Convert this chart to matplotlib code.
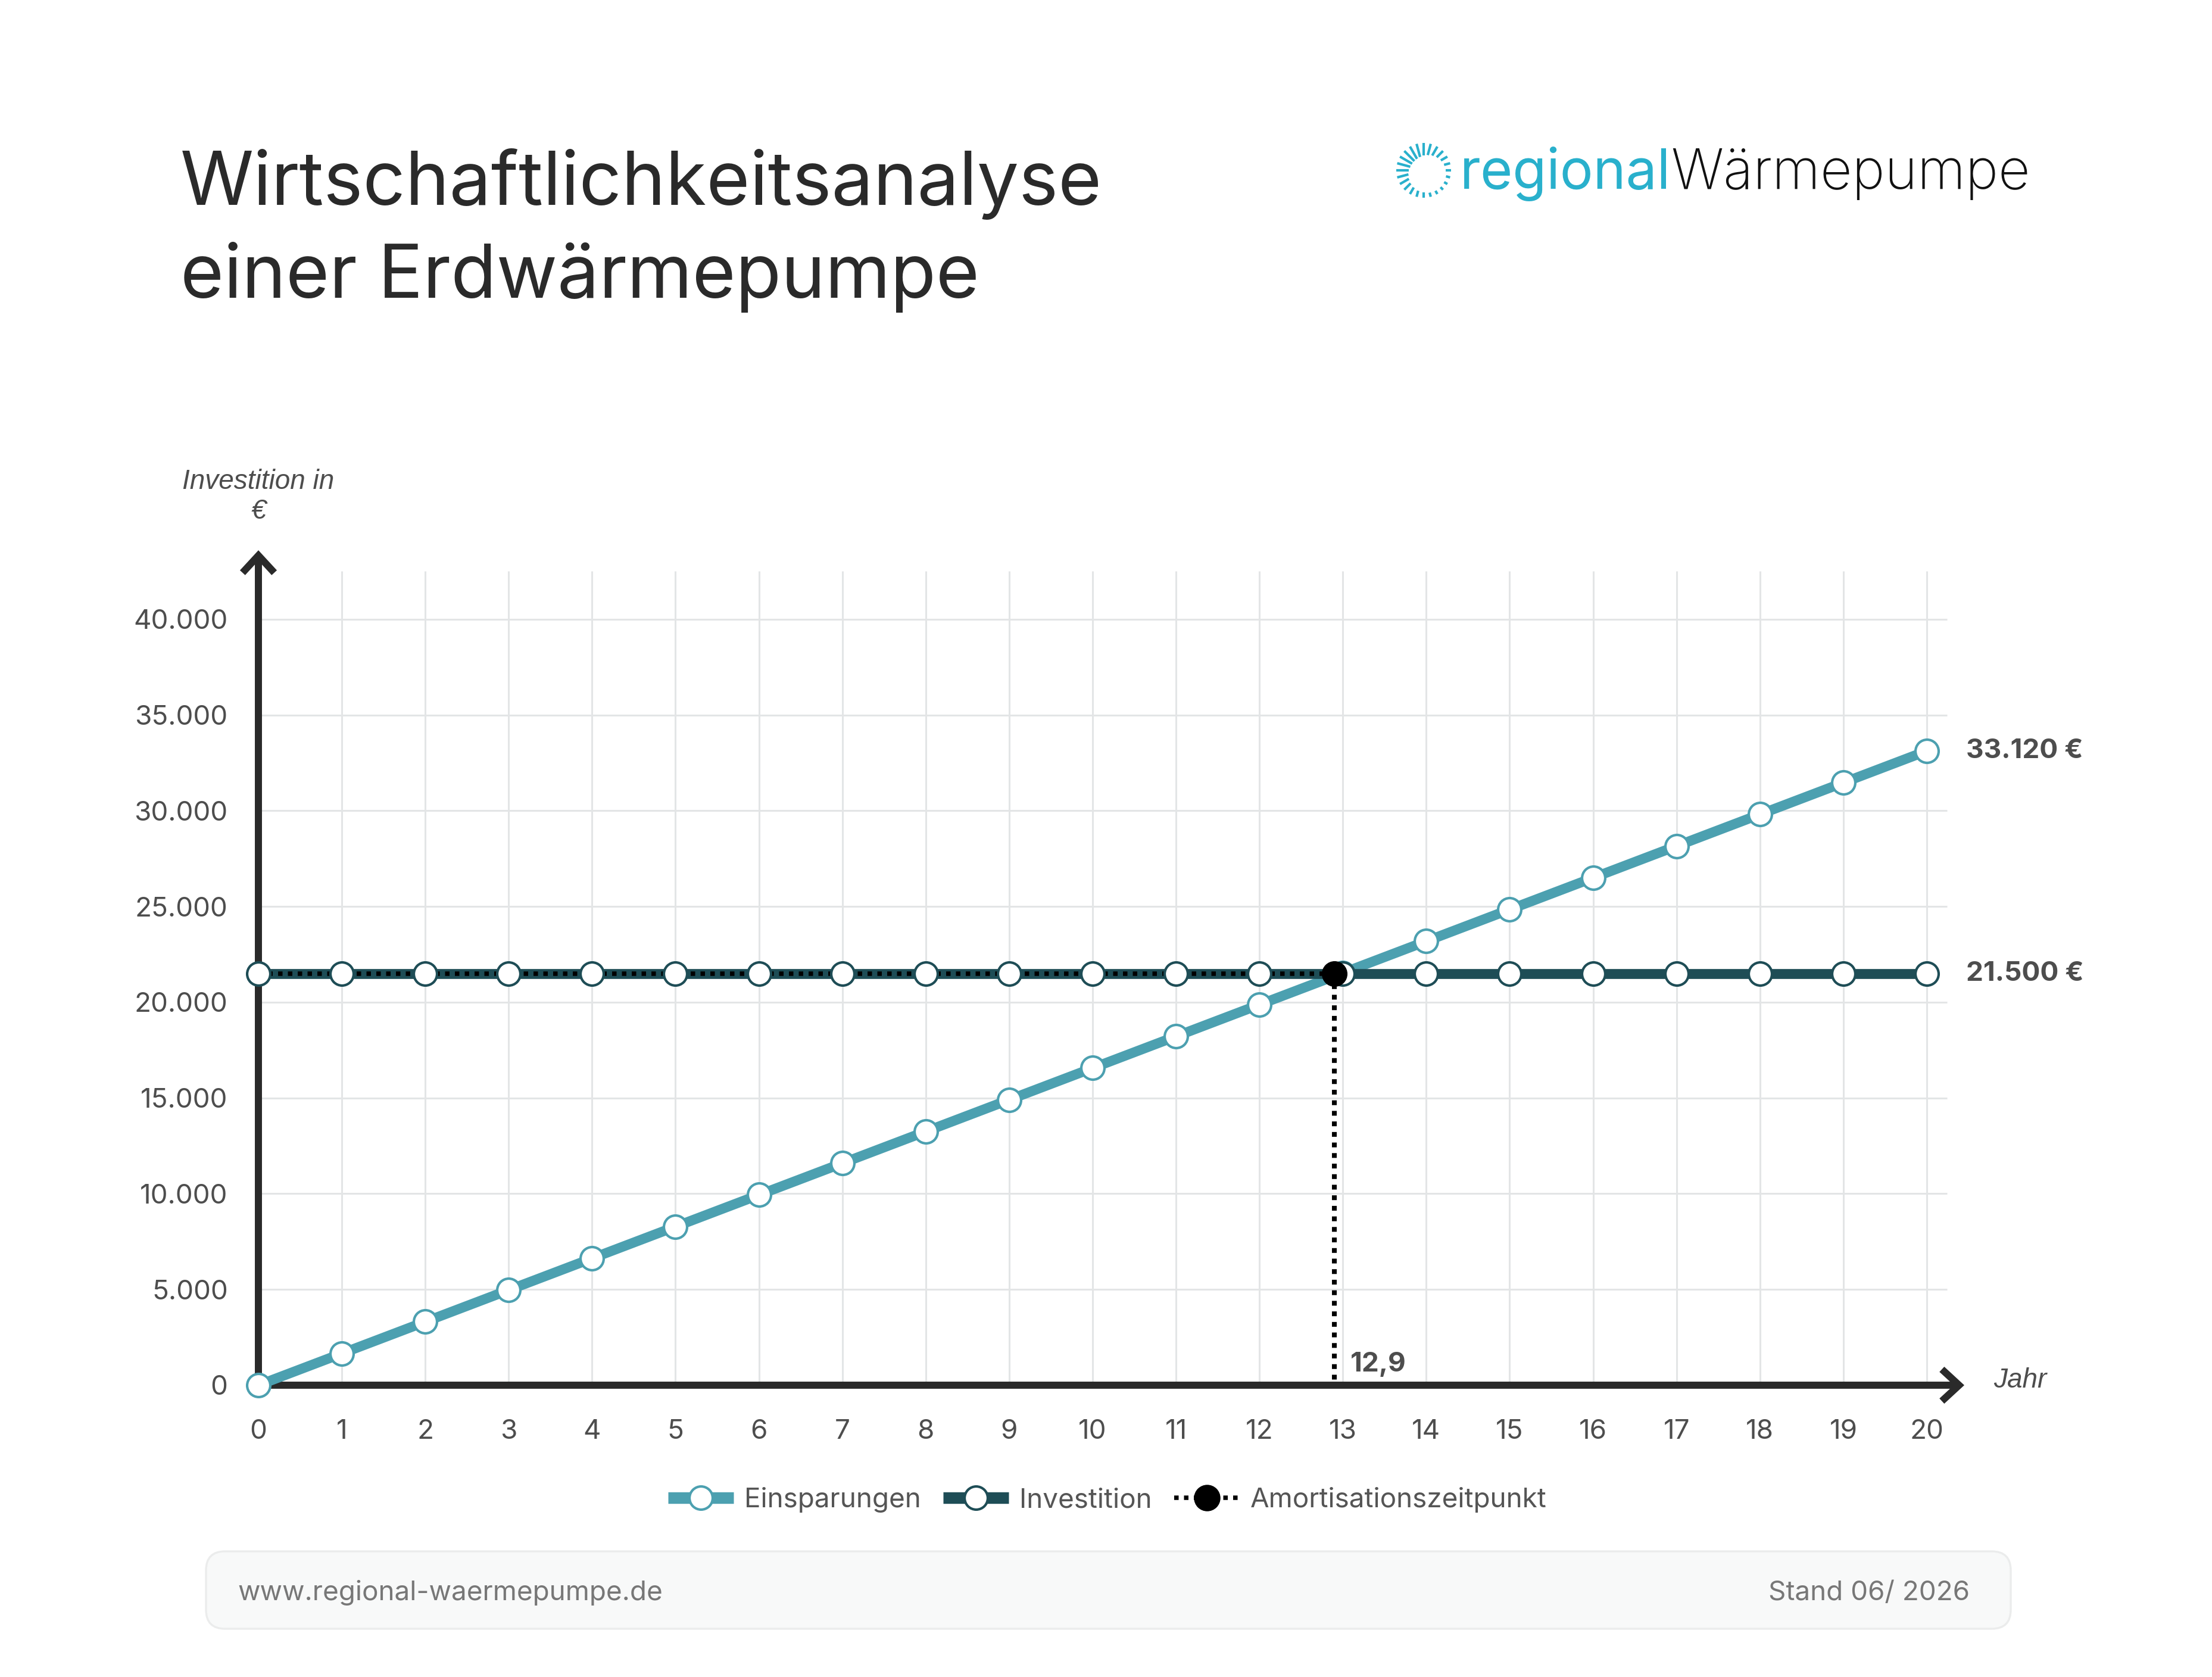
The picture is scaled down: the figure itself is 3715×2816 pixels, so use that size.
import matplotlib
matplotlib.use("Agg")
import matplotlib.pyplot as plt
from matplotlib.lines import Line2D
from matplotlib.patches import FancyBboxPatch
import numpy as np

# ---------------- data ----------------
years = [0, 1, 2, 3, 4, 5, 6, 7, 8, 9, 10, 11, 12, 13, 14, 15, 16, 17, 18, 19, 20]
savings = [0, 1656, 3312, 4968, 6624, 8280, 9936, 11592, 13248, 14904, 16560,
           18216, 19872, 21528, 23184, 24840, 26496, 28152, 29808, 31464, 33120]
investment = [21500, 21500, 21500, 21500, 21500, 21500, 21500, 21500, 21500, 21500, 21500,
              21500, 21500, 21500, 21500, 21500, 21500, 21500, 21500, 21500, 21500]
break_even_year = 12.9
break_even_value = 21500
break_even_label = "12,9"
end_labels = ["33.120 €", "21.500 €"]
ytick_values = [0, 5000, 10000, 15000, 20000, 25000, 30000, 35000, 40000]
ytick_labels = ["0", "5.000", "10.000", "15.000", "20.000", "25.000", "30.000", "35.000", "40.000"]
xtick_labels = [str(y) for y in years]
series_names = ["Einsparungen", "Investition", "Amortisationszeitpunkt"]

# ---------------- style ----------------
W, H, DPI = 3716, 2816, 200
C_SAV = "#4ca0b0"
C_INV = "#1e4d56"
C_AXIS = "#2a2a2a"
C_GRID = "#e3e5e6"
C_TXT = "#4d4d4d"
C_LOGO = "#29b0cc"
FONT = ["Inter", "DejaVu Sans"]
FONT_IT = ["Liberation Sans", "DejaVu Sans"]

plt.rcParams["font.family"] = FONT

fig = plt.figure(figsize=(W / DPI, H / DPI), dpi=DPI, facecolor="white")

# decoration layer in pixel coordinates
deco = fig.add_axes([0, 0, 1, 1])
deco.set_xlim(0, W)
deco.set_ylim(H, 0)
deco.axis("off")
deco.set_zorder(0)

# title
deco.text(303, 344, "Wirtschaftlichkeitsanalyse", fontsize=45, color="#2a2a2a",
          ha="left", va="baseline", family=FONT)
deco.text(303, 500, "einer Erdwärmepumpe", fontsize=45, color="#2a2a2a",
          ha="left", va="baseline", family=FONT)

# logo icon
cx, cy = 2391, 286
for ang in np.arange(0, 360, 15):
    a = np.deg2rad(ang)
    rin = 31 + 9 * np.cos(a - np.deg2rad(-45))
    rout = 46
    deco.plot([cx + rin * np.cos(a), cx + rout * np.cos(a)],
              [cy - rin * np.sin(a), cy - rout * np.sin(a)],
              color=C_LOGO, lw=1.5, solid_capstyle="butt")
deco.text(2806, 317, "regional", fontsize=33.5, color=C_LOGO, ha="right",
          va="baseline", family=FONT, fontweight="normal")
deco.text(2806, 317, "Wärmepumpe", fontsize=33.5, color="#111111", ha="left",
          va="baseline", family=FONT, fontweight="light")

# footer
box = FancyBboxPatch((346, 2605), 3031, 130, boxstyle="round,pad=0,rounding_size=32",
                     fc="#f8f9f9", ec="#ebecec", lw=1.2)
deco.add_patch(box)
deco.text(399, 2675, "www.regional-waermepumpe.de", fontsize=16.5, color="#777777",
          ha="left", va="center", family=FONT)
deco.text(3308, 2675, "Stand 06/ 2026", fontsize=16.5, color="#777777",
          ha="right", va="center", family=FONT)

# ---------------- main chart ----------------
x0_px, x_end_px = 434, 3299
y0_px, y_top_px = 2326, 924
ax = fig.add_axes([x0_px / W, (H - y0_px) / H, (x_end_px - x0_px) / W, (y0_px - y_top_px) / H])
ax.set_zorder(1)
ax.patch.set_alpha(0)
ax.set_xlim(0, 20.45)
ax.set_ylim(0, 43600)
for s in ax.spines.values():
    s.set_visible(False)

ax.set_xticks(years)
ax.set_xticklabels(xtick_labels)
ax.set_yticks(ytick_values)
ax.set_yticklabels(ytick_labels)
ax.tick_params(axis="x", length=0, pad=20.5, labelsize=16.5, labelcolor=C_TXT)
ax.tick_params(axis="y", length=0, pad=18.5, labelsize=16.5, labelcolor=C_TXT)

# grid
ax.vlines(years[1:], 0, 42500, color=C_GRID, lw=1.1, zorder=0)
ax.hlines(ytick_values[1:], 0, 20.24, color=C_GRID, lw=1.1, zorder=0)

# axes with arrows
arrow_kw = dict(arrowstyle="->,head_length=0.52,head_width=0.48", lw=4.3, color=C_AXIS,
                shrinkA=0, shrinkB=0, mutation_scale=20, joinstyle="miter", capstyle="butt")
ax.annotate("", xy=(20.45, 0), xytext=(-0.043, 0), arrowprops=arrow_kw,
            annotation_clip=False, zorder=2)
ax.annotate("", xy=(0, 43600), xytext=(0, -190), arrowprops=arrow_kw,
            annotation_clip=False, zorder=2)

LW = 6.0
MS = 14
MEW = 1.5
dots = (0, (1, 1.2))

ax.plot(years, savings, color=C_SAV, lw=LW, zorder=3, solid_capstyle="butt", clip_on=False)
ax.plot(years, savings, ls="none", marker="o", ms=MS, mfc="white", mec=C_SAV, mew=MEW,
        zorder=3.5, clip_on=False)
ax.plot(years, investment, color=C_INV, lw=LW, zorder=4, solid_capstyle="butt", clip_on=False)
ax.plot([0, break_even_year], [break_even_value, break_even_value], color="black", lw=2.7,
        ls=dots, dash_capstyle="butt", zorder=4.5)
ax.plot(years, investment, ls="none", marker="o", ms=MS, mfc="white", mec=C_INV, mew=MEW,
        zorder=5, clip_on=False)
ax.plot([break_even_year, break_even_year], [break_even_value, 0], color="black", lw=2.9,
        ls=dots, dash_capstyle="butt", zorder=4.5)
ax.plot([break_even_year], [break_even_value], ls="none", marker="o", ms=MS + 1,
        mfc="black", mec="black", mew=0.5, zorder=6)

# labels
ax.text(break_even_year + 0.19, 1090, break_even_label, fontsize=16.5, fontweight="bold",
        color=C_TXT, ha="left", va="center")
ax.text(20.47, savings[-1], end_labels[0], fontsize=16.5, fontweight="bold", color=C_TXT,
        ha="left", va="center", clip_on=False)
ax.text(20.47, investment[-1], end_labels[1], fontsize=16.5, fontweight="bold", color=C_TXT,
        ha="left", va="center", clip_on=False)
ax.text(20.8, 250, "Jahr", fontsize=16.5, style="italic", color=C_TXT, ha="left",
        va="center", family=FONT_IT, clip_on=False)
ax.text(0, 46400, "Investition in\n€", fontsize=16.5, style="italic", color=C_TXT,
        ha="center", va="center", family=FONT_IT, linespacing=1.15, clip_on=False)

# legend
handles = [
    Line2D([], [], color=C_SAV, lw=7, marker="o", ms=MS, mfc="white", mec=C_SAV, mew=MEW,
           solid_capstyle="butt"),
    Line2D([], [], color=C_INV, lw=7, marker="o", ms=MS, mfc="white", mec=C_INV, mew=MEW,
           solid_capstyle="butt"),
    Line2D([], [], color="black", lw=2.7, ls=dots, marker="o", ms=MS + 1, mfc="black",
           mec="black", dash_capstyle="butt"),
]
leg = fig.legend(handles, series_names, loc="center", bbox_to_anchor=(0.5005, (H - 2519) / H),
                 ncol=3, frameon=False, fontsize=16.5, handlelength=2.4, handletextpad=0.4,
                 columnspacing=0.8, numpoints=1)
for t in leg.get_texts():
    t.set_color("#555555")

fig.savefig("out.png", dpi=DPI, facecolor="white")
